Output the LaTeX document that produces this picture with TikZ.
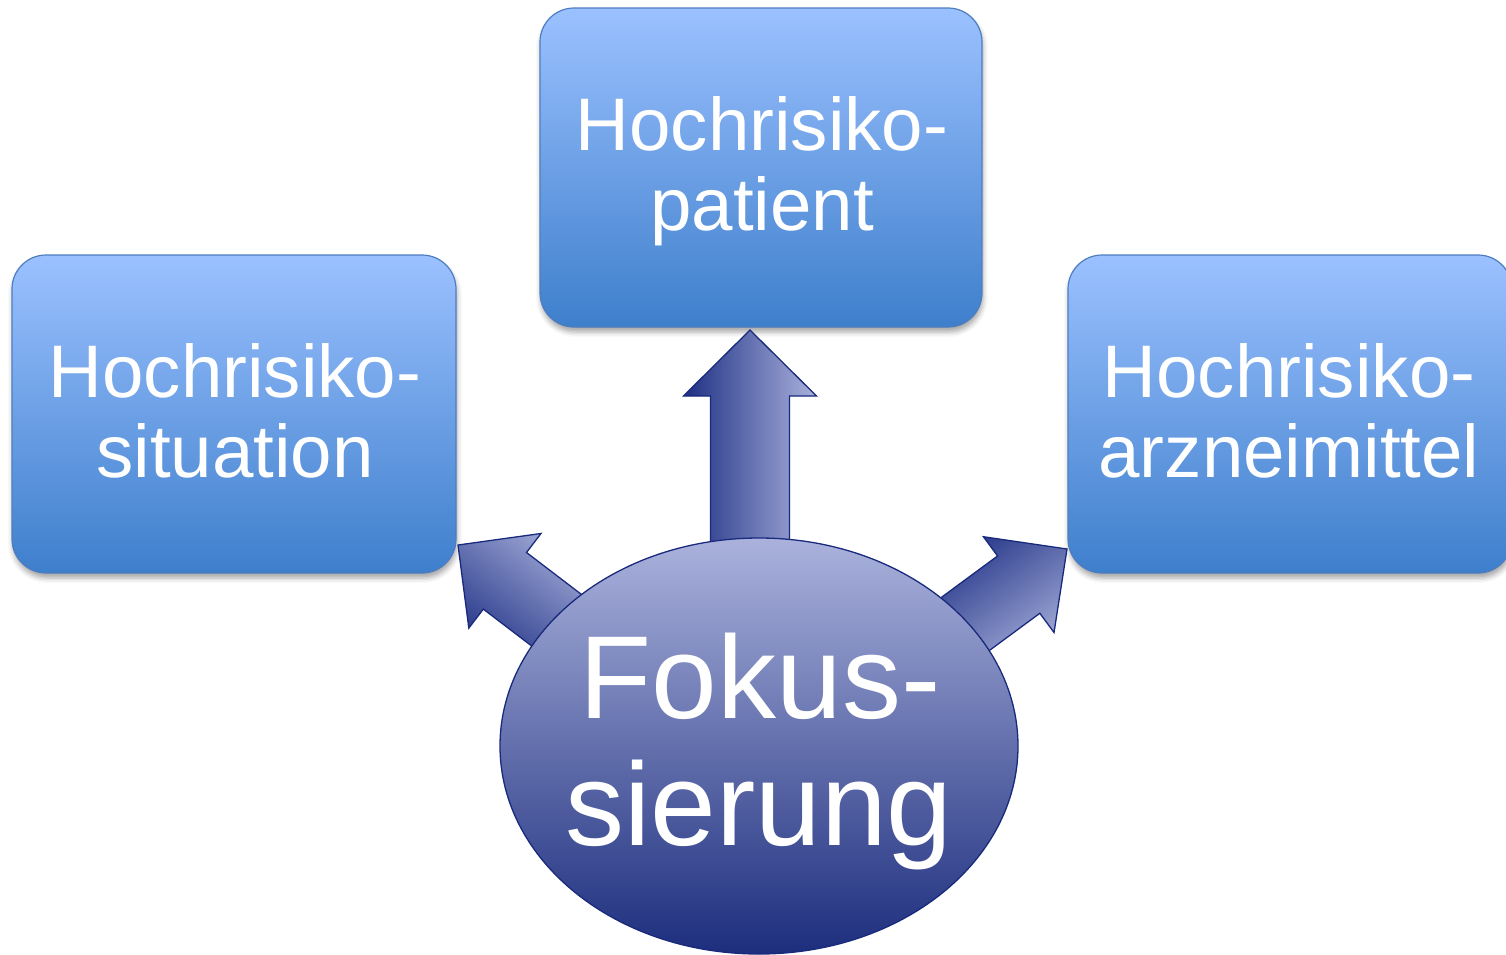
\documentclass[tikz,border=0pt]{standalone}
\usepackage{fontspec}
\setmainfont{Liberation Sans}
\usetikzlibrary{calc,shapes.geometric,shadows.blur}
\definecolor{boxtop}{RGB}{155,193,255}
\definecolor{boxbot}{RGB}{62,127,204}
\definecolor{boxline}{RGB}{78,125,192}
\definecolor{adark}{RGB}{30,48,132}
\definecolor{alight}{RGB}{170,178,220}
\definecolor{aline}{RGB}{25,42,125}
\newcommand\blockarrow[6]{%
  \coordinate (h) at ($(#1)!#3!(#2)$);
  \draw[arrowshape, top color=adark, bottom color=alight, shading angle=#6]
    (#1) -- ($(h)!#4!90:(#1)$) -- ($(h)!#5!90:(#1)$) -- ($(#2)!#5!90:(#1)$)
    -- ($(#2)!#5!-90:(#1)$) -- ($(h)!#5!-90:(#1)$) -- ($(h)!#4!-90:(#1)$) -- cycle;
}
\begin{document}
\begin{tikzpicture}[x=1pt,y=-1pt,
  box/.style={draw=boxline, line width=1.2pt, rounded corners=34pt,
    top color=boxtop, bottom color=boxbot, inner sep=0pt,
    blur shadow={shadow xshift=1pt, shadow yshift=-5pt, shadow opacity=35, shadow blur radius=5pt}},
  lbl/.style={text=white, font=\fontsize{74.5pt}{80pt}\selectfont, inner sep=0pt, anchor=base},
  big/.style={text=white, font=\fontsize{118pt}{127pt}\selectfont, inner sep=0pt, anchor=base},
  arrowshape/.style={draw=aline, line width=1.3pt, line join=miter},
  focus/.style={ellipse, draw=aline, line width=1.3pt, inner sep=0pt,
    top color=alight, bottom color=adark!95!black}]
\useasboundingbox (0,0) rectangle (1506,954);

% boxes
\node[box, minimum width=442pt, minimum height=319pt] (pat) at (761,167.5) {};
\node[box, minimum width=444pt, minimum height=318pt] (sit) at (234,414) {};
\node[box, minimum width=444pt, minimum height=318pt] (arz) at (1290,414) {};

% connector coordinates
\coordinate (tipP) at (750,330);
\coordinate (baseP) at (750,600);
\coordinate (tipS) at (458,545);
\coordinate (baseS) at (593,648);
\coordinate (tipA) at (1067,549);
\coordinate (baseA) at (930,650);

% block arrows
\blockarrow{tipP}{baseP}{66pt}{66.5pt}{39.5pt}{90}
\blockarrow{tipS}{baseS}{59pt}{59.5pt}{35.6pt}{142.5}
\blockarrow{tipA}{baseA}{60pt}{59.5pt}{35.6pt}{36.2}

% central ellipse
\node[focus, minimum width=518pt, minimum height=416pt] (fok) at (759,746) {};

% texts
\node[lbl] (pat1) at (762,150) {Hochrisiko-};
\node[lbl] (pat2) at (762,230) {patient};
\node[lbl] (sit1) at (235,397) {Hochrisiko-};
\node[lbl] (sit2) at (235,477) {situation};
\node[lbl] (arz1) at (1289,397) {Hochrisiko-};
\node[lbl] (arz2) at (1289,477) {arzneimittel};
\node[big] (fok1) at (760,718) {Fokus-};
\node[big] (fok2) at (759,845) {sierung};
\end{tikzpicture}
\end{document}
